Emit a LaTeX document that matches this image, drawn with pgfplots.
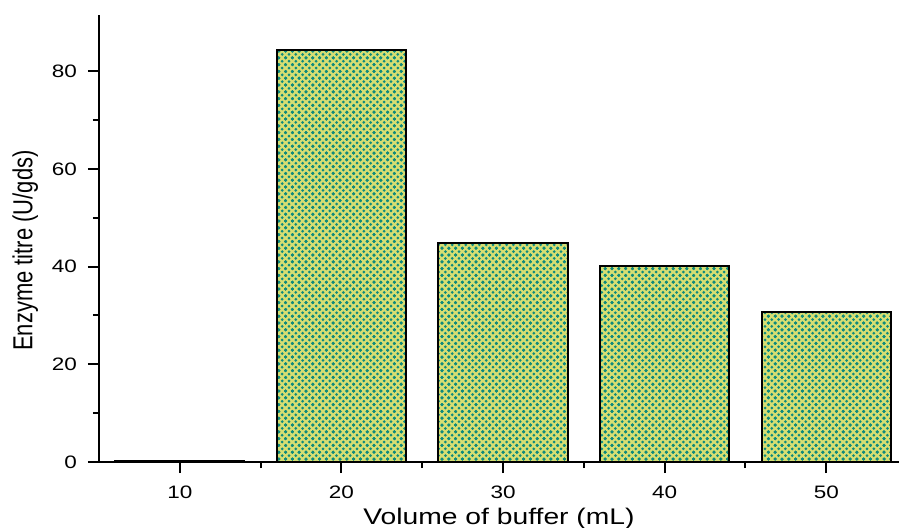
\documentclass[border=0pt]{standalone}
\usepackage{fontspec}
\setmainfont{Liberation Sans}
\newfontfamily\wide[FakeStretch=1.25]{Liberation Sans}
\usepackage{pgfplots}
\pgfplotsset{compat=1.18}
\usetikzlibrary{patterns}
\definecolor{ygreen}{HTML}{D6DE72}
\definecolor{dteal}{HTML}{0E8A7E}
\pgfdeclarepatternformonly{bigdots}{\pgfpoint{-1pt}{-1pt}}{\pgfpoint{4.4pt}{4.4pt}}{\pgfpoint{3.4pt}{3.4pt}}{%
  \pgfpathcircle{\pgfpoint{0pt}{0pt}}{0.75pt}%
  \pgfpathcircle{\pgfpoint{1.7pt}{1.7pt}}{0.75pt}%
  \pgfpathcircle{\pgfpoint{3.4pt}{3.4pt}}{0.75pt}%
  \pgfpathcircle{\pgfpoint{0pt}{3.4pt}}{0.75pt}%
  \pgfpathcircle{\pgfpoint{3.4pt}{0pt}}{0.75pt}%
  \pgfusepath{fill}}
\begin{document}
\begin{tikzpicture}
\useasboundingbox (-49.5pt,-32.5pt) rectangle (400pt,231pt);
\begin{axis}[
  at={(0,0)}, anchor=south west,
  scale only axis, width=400pt, height=223.5pt,
  xmin=5, xmax=54.5, ymin=0, ymax=91.5,
  axis lines*=left,
  axis line style={line width=1pt},
  xtick={10,20,30,40,50}, minor x tick num=1,
  ytick={0,20,40,60,80}, minor y tick num=1,
  tick align=outside,
  major tick length=5.5pt, minor tick length=3pt,
  every tick/.style={black, line width=1pt},
  tick label style={font=\wide\fontsize{9}{10}\selectfont},
  /pgf/number format/assume math mode=true,
  xticklabel style={yshift=-3pt},
  yticklabel style={xshift=-2pt},
  xlabel={Volume of buffer (mL)},
  ylabel={\scalebox{1}[1.25]{Enzyme titre (U/gds)}},
  xlabel style={font=\wide\fontsize{11.3}{12}\selectfont, yshift=2pt},
  ylabel style={font=\fontsize{11}{12}\selectfont, at={(ticklabel cs:0.473)}},
  clip=false,
]
\addplot[ybar, bar width=8, draw=black, line width=1pt, fill=ygreen,
  postaction={pattern=bigdots, pattern color=dteal}]
  coordinates {(10,0.3) (20,84.4) (30,44.8) (40,40.1) (50,30.7)};
\end{axis}
\end{tikzpicture}
\end{document}
